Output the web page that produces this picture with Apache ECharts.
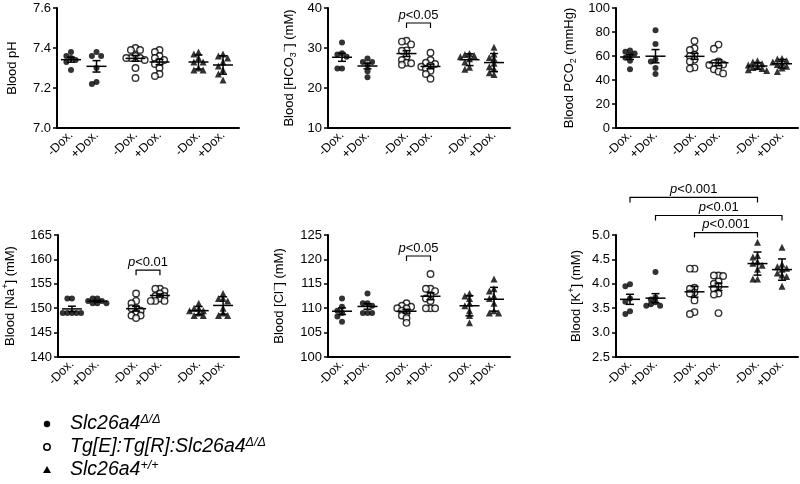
<!DOCTYPE html>
<html>
<head>
<meta charset="utf-8">
<script src="https://cdn.jsdelivr.net/npm/echarts@6/dist/echarts.min.js"></script>
<style>
  html, body { margin: 0; padding: 0; background: #fff; }
  #chart { width: 800px; height: 484px; }
</style>
</head>
<body>
<div id="chart"></div>
<script>
  // groups in slot order: KO -Dox, KO +Dox, Tg -Dox, Tg +Dox, WT -Dox, WT +Dox
  const categories = ['-Dox.', '+Dox.', '-Dox.', '+Dox.', '-Dox.', '+Dox.']
  const genotypes = ['Slc26a4 Δ/Δ', 'Tg[E]:Tg[R]:Slc26a4 Δ/Δ', 'Slc26a4 +/+']
  const slotGenotype = [0, 0, 1, 1, 2, 2]

  const bloodPH = [
    [7.38, 7.36, 7.35, 7.34, 7.33, 7.29],
    [7.38, 7.36, 7.36, 7.30, 7.23, 7.22],
    [7.40, 7.39, 7.39, 7.36, 7.35, 7.35, 7.35, 7.34, 7.30, 7.25],
    [7.39, 7.38, 7.36, 7.35, 7.34, 7.33, 7.32, 7.30, 7.27, 7.26],
    [7.38, 7.37, 7.35, 7.33, 7.33, 7.30, 7.29, 7.29],
    [7.37, 7.36, 7.35, 7.33, 7.31, 7.29, 7.27, 7.24],
  ]
  const bloodHCO3 = [
    [31.4, 28.7, 28.4, 27.8, 24.9, 24.9],
    [27.4, 26.5, 26.5, 25.7, 24.2, 22.7],
    [31.8, 31.6, 30.9, 29.4, 29.3, 27.8, 27.0, 26.3, 26.2, 25.8],
    [28.8, 27.0, 26.3, 26.0, 25.6, 25.3, 24.8, 24.3, 23.5, 22.3],
    [28.6, 28.4, 28.1, 27.8, 27.3, 26.5, 25.2, 24.7],
    [30.2, 28.5, 27.6, 27.4, 26.2, 25.3, 24.8, 23.8, 23.4],
  ]
  const bloodPCO2 = [
    [64.5, 63.5, 62, 60.5, 58.5, 56, 49],
    [81.5, 70, 57, 55.5, 50, 45],
    [72.5, 66.5, 65, 61, 60, 57, 55.5, 50.5, 49.5],
    [69.5, 66, 55.5, 54, 53, 52.5, 51.5, 49, 47, 45.5],
    [56, 55, 53.5, 52.5, 51.5, 50.5, 49.5, 48.5, 48],
    [58, 57.5, 56, 55, 54, 53, 51.5, 50, 47],
  ]
  const bloodNa = [
    [152, 152, 149, 149, 149, 149, 149],
    [152, 152, 151.5, 151.5, 151, 151, 151],
    [153, 151.5, 151, 150, 150, 149.5, 149, 148.5, 148.5, 148],
    [154, 154, 153.5, 153, 152.5, 152.5, 152, 151.5, 151.5, 151.5],
    [151, 150, 150, 149.5, 149.5, 149, 148.5, 148.5],
    [153, 152, 152, 151.5, 150, 149, 148.5, 148.5],
  ]
  const bloodCl = [
    [112, 110.3, 109.5, 109, 108.3, 107.2],
    [113, 111, 111, 110.5, 109, 109, 109],
    [111, 110.5, 110.3, 110, 110, 109.5, 109, 108.5, 108, 107],
    [117, 114, 114, 113.5, 112.5, 112, 111.5, 110, 110, 110],
    [113, 112.5, 112, 111, 110.5, 109.5, 108.5, 107],
    [116, 114, 113.5, 112.5, 112, 111, 109.5, 109, 109],
  ]
  const bloodK = [
    [3.99, 3.95, 3.70, 3.63, 3.44, 3.38],
    [4.24, 3.72, 3.68, 3.62, 3.58, 3.55, 3.55],
    [4.31, 4.31, 3.92, 3.90, 3.82, 3.80, 3.66, 3.42, 3.38],
    [4.17, 4.17, 4.16, 4.05, 4.00, 3.95, 3.90, 3.80, 3.78, 3.40],
    [4.85, 4.58, 4.55, 4.45, 4.42, 4.38, 4.30, 4.10, 4.10],
    [4.75, 4.40, 4.35, 4.32, 4.30, 4.22, 4.18, 4.15, 3.95],
  ]

  // [from slot, to slot, label]
  const sigHCO3 = [[2, 3, 'p<0.05']]
  const sigNa = [[2, 3, 'p<0.01']]
  const sigCl = [[2, 3, 'p<0.05']]
  const sigK = [[0, 4, 'p<0.001'], [1, 5, 'p<0.01'], [2, 4, 'p<0.001']]

  // layout
  const font = "'Liberation Sans', Arial, sans-serif"
  const slotX = [14, 39.5, 78.5, 102.5, 141.5, 166]
  const panels = [
    { data: bloodPH, name: '{n|Blood pH}', min: 7.0, max: 7.6, interval: 0.2, dec: 1, grid: [57, 8, 120], gap: 36 },
    { data: bloodHCO3, name: '{n|Blood [HCO}{sub|3}{sup|−}{n|] (mM)}', min: 10, max: 40, interval: 10, dec: 0, grid: [328, 8, 120], gap: 30, sig: sigHCO3, sigY: [36.25] },
    { data: bloodPCO2, name: '{n|Blood PCO}{sub|2}{n| (mmHg)}', min: 0, max: 100, interval: 20, dec: 0, grid: [616, 8, 120], gap: 38 },
    { data: bloodNa, name: '{n|Blood [Na}{sup|+}{n|] (mM)}', min: 140, max: 165, interval: 5, dec: 0, grid: [57, 235, 122], gap: 39, sig: sigNa, sigY: [157.8] },
    { data: bloodCl, name: '{n|Blood [Cl}{sup|−}{n|] (mM)}', min: 100, max: 125, interval: 5, dec: 0, grid: [328, 235, 122], gap: 40, sig: sigCl, sigY: [120.7] },
    { data: bloodK, name: '{n|Blood [K}{sup|+}{n|] (mM)}', min: 2.5, max: 5.0, interval: 0.5, dec: 1, grid: [616, 235, 122], gap: 31, sig: sigK, sigY: [5.77, 5.40, 5.05] },
  ]
  const nameRich = {
    n: { fontSize: 13, lineHeight: 18, verticalAlign: 'middle', color: '#000', fontFamily: font },
    sup: { fontSize: 9, lineHeight: 9, verticalAlign: 'top', color: '#000', fontFamily: font },
    sub: { fontSize: 9, lineHeight: 9, verticalAlign: 'bottom', color: '#000', fontFamily: font },
  }
  const pRich = {
    i: { fontSize: 13, fontStyle: 'italic', color: '#000', fontFamily: font },
    n: { fontSize: 13, color: '#000', fontFamily: font },
  }
  const symbols = [
    { symbol: 'circle', symbolSize: 6, itemStyle: { color: '#000' } },
    { symbol: 'circle', symbolSize: 6.5, itemStyle: { color: '#fff', borderColor: '#000', borderWidth: 1.4 } },
    { symbol: 'triangle', symbolSize: 7, itemStyle: { color: '#000' } },
  ]

  const mean = arr => arr.reduce((a, b) => a + b, 0) / arr.length
  const sd = arr => {
    const m = mean(arr)
    return Math.sqrt(arr.reduce((a, b) => a + (b - m) * (b - m), 0) / (arr.length - 1))
  }

  // compact beeswarm: equal values sit side by side, overlapping a little
  function swarm(vals, cx, pxu) {
    const d = 4.6
    const placed = []
    return vals.map(v => {
      const py = v * pxu
      for (const k of [0, -1, 1, -2, 2]) {
        const px = cx + k * d
        if (placed.every(p => (p[0] - px) ** 2 + (p[1] - py) ** 2 >= d * d * 0.9)) {
          placed.push([px, py])
          return [px, v]
        }
      }
      placed.push([cx, py])
      return [cx, v]
    })
  }

  const grids = [], xAxes = [], yAxes = [], series = []
  panels.forEach((p, i) => {
    const [left, top, height] = p.grid
    grids.push({ left, top, width: 182, height })
    xAxes.push({
      gridIndex: i, type: 'value', min: 0, max: 182,
      axisLine: { onZero: false, lineStyle: { color: '#000', width: 2 } },
      axisTick: { show: false },
      splitLine: { show: false },
      axisLabel: {
        customValues: slotX, rotate: 45, margin: 5, fontSize: 12.5, color: '#000', fontFamily: font,
        formatter: v => {
          let best = 0
          slotX.forEach((s, j) => { if (Math.abs(s - v) < Math.abs(slotX[best] - v)) best = j })
          return categories[best]
        },
      },
    })
    yAxes.push({
      gridIndex: i, type: 'value', min: p.min, max: p.max, interval: p.interval,
      name: p.name, nameLocation: 'middle', nameRotate: 90, nameGap: p.gap,
      nameTextStyle: { rich: nameRich, color: '#000', fontSize: 13, fontFamily: font },
      axisLine: { show: true, onZero: false, lineStyle: { color: '#000', width: 2 } },
      axisTick: { show: true, length: 4, lineStyle: { color: '#000', width: 1.5 } },
      splitLine: { show: false },
      axisLabel: { margin: 6, fontSize: 13, color: '#000', fontFamily: font, formatter: v => v.toFixed(p.dec) },
    })

    const pxu = height / (p.max - p.min)
    genotypes.forEach((g, gi) => {
      const pts = []
      p.data.forEach((vals, s) => {
        if (slotGenotype[s] === gi) pts.push(...swarm(vals, slotX[s], pxu))
      })
      series.push({
        name: g, type: 'scatter', xAxisIndex: i, yAxisIndex: i, silent: true, z: 2,
        ...symbols[gi], data: pts,
      })
    })

    // mean with SEM (mutant groups) or SD (wild type)
    const errData = p.data.map((vals, s) => {
      const m = mean(vals)
      const e = slotGenotype[s] === 2 ? sd(vals) : sd(vals) / Math.sqrt(vals.length)
      return [slotX[s], m, m - e, m + e]
    })
    series.push({
      type: 'custom', xAxisIndex: i, yAxisIndex: i, silent: true, z: 3, clip: false,
      data: errData,
      renderItem: (params, api) => {
        const c = api.coord([api.value(0), api.value(1)])
        const lo = api.coord([api.value(0), api.value(2)])
        const hi = api.coord([api.value(0), api.value(3)])
        const st = { stroke: '#000', lineWidth: 1.5 }
        return {
          type: 'group',
          children: [
            { type: 'line', shape: { x1: c[0] - 10, y1: c[1], x2: c[0] + 10, y2: c[1] }, style: st },
            { type: 'line', shape: { x1: c[0], y1: lo[1], x2: c[0], y2: hi[1] }, style: st },
            { type: 'line', shape: { x1: c[0] - 4, y1: lo[1], x2: c[0] + 4, y2: lo[1] }, style: st },
            { type: 'line', shape: { x1: c[0] - 4, y1: hi[1], x2: c[0] + 4, y2: hi[1] }, style: st },
          ],
        }
      },
    })

    if (p.sig) {
      series.push({
        type: 'custom', xAxisIndex: i, yAxisIndex: i, silent: true, z: 3, clip: false,
        data: p.sig.map((b, j) => [slotX[b[0]], slotX[b[1]], p.sigY[j]]),
        renderItem: (params, api) => {
          const a = api.coord([api.value(0), api.value(2)])
          const b = api.coord([api.value(1), api.value(2)])
          const label = p.sig[params.dataIndex][2]
          return {
            type: 'group',
            children: [
              {
                type: 'polyline',
                shape: { points: [[a[0], a[1] + 5], a, b, [b[0], b[1] + 5]] },
                style: { stroke: '#000', lineWidth: 1.2, fill: null },
              },
              {
                type: 'text',
                style: {
                  x: (a[0] + b[0]) / 2, y: a[1] - 8, align: 'center', verticalAlign: 'middle',
                  text: '{i|p}{n|' + label.slice(1) + '}', rich: pRich,
                },
              },
            ],
          }
        },
      })
    }
  })

  // legend drawn as graphics
  const legRich = {
    a: { fontSize: 19.5, fontStyle: 'italic', color: '#000', fontFamily: font, lineHeight: 22, verticalAlign: 'middle' },
    s: { fontSize: 12.5, fontStyle: 'italic', color: '#000', fontFamily: font, lineHeight: 12, verticalAlign: 'top' },
  }
  const legendText = ['{a|Slc26a4}{s|Δ/Δ}', '{a|Tg[E]:Tg[R]:Slc26a4}{s|Δ/Δ}', '{a|Slc26a4}{s|+/+}']
  const legendY = [424, 447, 470]
  const graphic = []
  graphic.push({ type: 'circle', shape: { cx: 47, cy: legendY[0], r: 3.2 }, style: { fill: '#000' } })
  graphic.push({ type: 'circle', shape: { cx: 47, cy: legendY[1], r: 3.2 }, style: { fill: '#fff', stroke: '#000', lineWidth: 1.5 } })
  graphic.push({ type: 'polygon', shape: { points: [[47, legendY[2] - 4], [43, legendY[2] + 3], [51, legendY[2] + 3]] }, style: { fill: '#000' } })
  legendText.forEach((t, i) => {
    graphic.push({
      type: 'text', x: 70, y: legendY[i],
      style: { text: t, rich: legRich, verticalAlign: 'middle', align: 'left' },
    })
  })

  const chart = echarts.init(document.getElementById('chart'))
  chart.setOption({
    animation: false,
    textStyle: { fontFamily: font },
    grid: grids,
    xAxis: xAxes,
    yAxis: yAxes,
    series,
    graphic,
  })
</script>
</body>
</html>
